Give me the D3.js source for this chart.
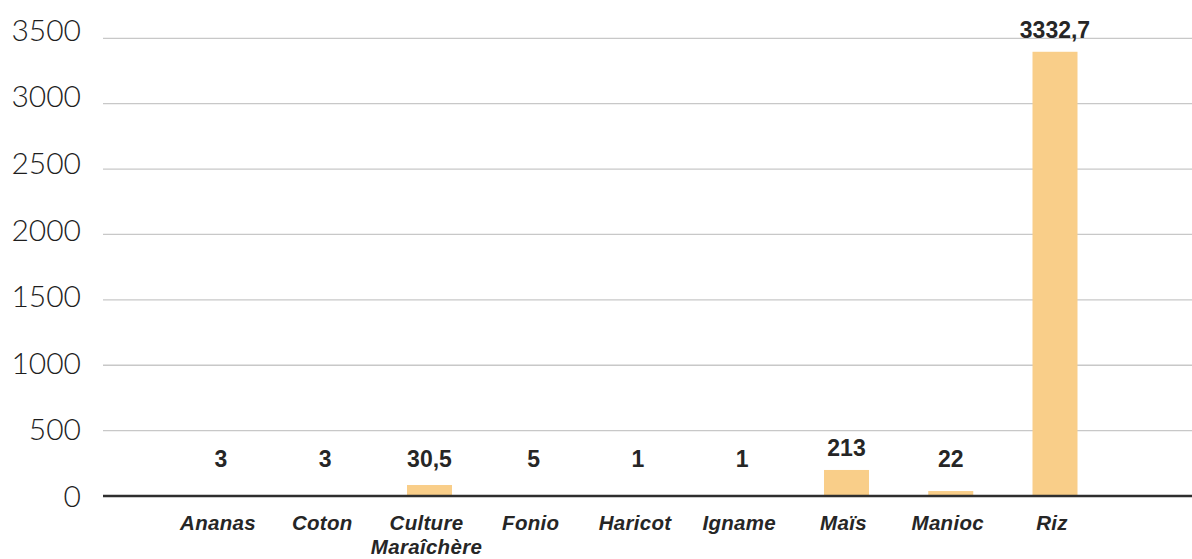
<!DOCTYPE html>
<html>
<head>
<meta charset="utf-8">
<script src="https://cdn.jsdelivr.net/npm/d3@7"></script>
<style>
  html, body { margin: 0; padding: 0; background: #ffffff; }
  svg { display: block; }
</style>
</head>
<body>
<svg id="chart" width="1192" height="559"></svg>
<script>
// ---- data ----
const categories = ["Ananas", "Coton", "Culture Maraîchère", "Fonio", "Haricot", "Igname", "Maïs", "Manioc", "Riz"];
const categoryLines = [["Ananas"], ["Coton"], ["Culture", "Maraîchère"], ["Fonio"], ["Haricot"], ["Igname"], ["Maïs"], ["Manioc"], ["Riz"]];
// bar heights as drawn in the picture
const barValues = [3, 3, 84, 5, 1, 1, 199, 38, 3397];
// data labels as printed in the picture
const valueLabels = ["3", "3", "30,5", "5", "1", "1", "213", "22", "3332,7"];
const yTicks = [0, 500, 1000, 1500, 2000, 2500, 3000, 3500];

// ---- layout ----
const W = 1192, H = 559;
const svg = d3.select("#chart");
const plotLeft = 103, plotRight = 1192;
const bandStep = 104.25, firstCenter = 221;

const x = d3.scaleBand()
  .domain(categories)
  .range([firstCenter - bandStep / 2, firstCenter - bandStep / 2 + bandStep * categories.length])
  .paddingInner(1 - 45 / bandStep)
  .paddingOuter((1 - 45 / bandStep) / 2);

const y = d3.scaleLinear().domain([0, 3500]).range([496, 38.3]);
// tick labels sit slightly higher than their gridlines toward the top
const yLabel = d3.scaleLinear().domain([0, 3500]).range([496, 30]);

// gridlines
svg.append("g").selectAll("line")
  .data(yTicks.filter(d => d > 0))
  .join("line")
  .attr("x1", plotLeft).attr("x2", plotRight)
  .attr("y1", d => y(d)).attr("y2", d => y(d))
  .attr("stroke", "#c8c8c8").attr("stroke-width", 1.3);

// y tick labels
svg.append("g").selectAll("text")
  .data(yTicks)
  .join("text")
  .attr("x", 81)
  .attr("y", d => yLabel(d))
  .attr("dy", "0.36em")
  .attr("text-anchor", "end")
  .attr("font-family", "Lato, 'Noto Sans', sans-serif")
  .attr("font-weight", 300)
  .attr("font-size", 30)
  .attr("fill", "#1e1e1e")
  .text(d => d);

// bars
svg.append("g").selectAll("rect")
  .data(categories)
  .join("rect")
  .attr("x", d => x(d))
  .attr("width", x.bandwidth())
  .attr("y", (d, i) => y(barValues[i]))
  .attr("height", (d, i) => y(0) - y(barValues[i]))
  .attr("fill", "#F9CE89");

// baseline
svg.append("line")
  .attr("x1", plotLeft).attr("x2", plotRight)
  .attr("y1", y(0)).attr("y2", y(0))
  .attr("stroke", "#2e2e2e").attr("stroke-width", 2.6);

// value labels
svg.append("g").selectAll("text")
  .data(categories)
  .join("text")
  .attr("x", d => x(d) + x.bandwidth() / 2)
  .attr("y", (d, i) => Math.min(y(0) - 29, y(barValues[i]) - 14))
  .attr("text-anchor", "middle")
  .attr("font-family", "'Liberation Sans', Arial, sans-serif")
  .attr("font-weight", 700)
  .attr("font-size", 23)
  .attr("fill", "#262626")
  .text((d, i) => valueLabels[i]);

// category labels (one text per line)
const lineData = [];
categories.forEach((c, i) => {
  categoryLines[i].forEach((ln, j) => lineData.push({ c, ln, j }));
});
svg.append("g").selectAll("text")
  .data(lineData)
  .join("text")
  .attr("x", d => x(d.c) + x.bandwidth() / 2 - 3)
  .attr("y", d => 530 + d.j * 23.5)
  .attr("text-anchor", "middle")
  .attr("font-family", "'Liberation Sans', Arial, sans-serif")
  .attr("font-weight", 700)
  .attr("font-style", "italic")
  .attr("font-size", 20.5)
  .attr("letter-spacing", 0.3)
  .attr("fill", "#262626")
  .text(d => d.ln);
</script>
</body>
</html>
